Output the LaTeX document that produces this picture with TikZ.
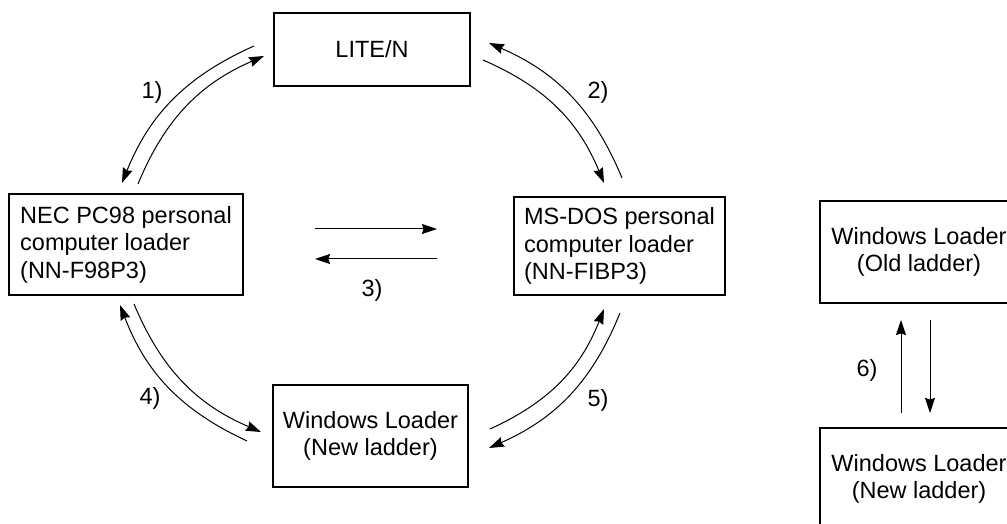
\documentclass[tikz,border=0pt]{standalone}
\usepackage{fontspec}
\setmainfont{Liberation Sans}
\usetikzlibrary{arrows.meta}
\begin{document}
\begin{tikzpicture}[x=1pt,y=1pt,
  box/.style={draw,line width=1.1pt,inner sep=0pt,font=\fontsize{23.5}{27.5}\selectfont},
  lbl/.style={font=\fontsize{23.5}{27.5}\selectfont,inner sep=0pt},
  arr/.style={line width=1pt,-{Stealth[length=15pt,width=10pt,inset=1.5pt]}}]
\useasboundingbox (0,0) rectangle (1007,524);
\clip (0,0) rectangle (1007,524);
% boxes
\node[box,minimum width=196pt,minimum height=73pt] (lite) at (372,474.5) {LITE/N};
\node[box,minimum width=234pt,minimum height=101pt,align=left] (nec) at (126,279.5) {NEC PC98 personal\\computer loader\\(NN-F98P3)};
\node[box,minimum width=211pt,minimum height=98pt,align=left] (msdos) at (619.5,278) {MS-DOS personal\\computer loader\\(NN-FIBP3)};
\node[box,minimum width=195pt,minimum height=102pt,align=center] (winnew) at (370.5,88) {Windows Loader\\(New ladder)};
\node[box,minimum width=198pt,minimum height=102pt,align=center] (wold) at (919,272) {Windows Loader\\(Old ladder)};
\node[box,minimum width=198pt,minimum height=102pt,align=center] (wnew2) at (919,45) {Windows Loader\\(New ladder)};
% arrow end points
\coordinate (a1os) at (254,478); \coordinate (a1ot) at (122,341);
\coordinate (a1is) at (138,340); \coordinate (a1it) at (264,468);
\coordinate (a2os) at (622,346); \coordinate (a2ot) at (489,481);
\coordinate (a2is) at (483,464); \coordinate (a2it) at (604,341);
\coordinate (a3ts) at (315,295); \coordinate (a3tt) at (437,295);
\coordinate (a3bs) at (437,265); \coordinate (a3bt) at (315,265);
\coordinate (a4os) at (247,83);  \coordinate (a4ot) at (120,219);
\coordinate (a4is) at (134,220); \coordinate (a4it) at (261,92);
\coordinate (a5is) at (490,95);  \coordinate (a5it) at (604,215);
\coordinate (a5os) at (620,211); \coordinate (a5ot) at (489,76);
\coordinate (a6us) at (901,111); \coordinate (a6ut) at (901,204);
\coordinate (a6ds) at (930,204); \coordinate (a6dt) at (930,111);
% arrows
\draw[arr] (a1os) to[bend right=22] (a1ot);
\draw[arr] (a1is) to[bend left=22] (a1it);
\draw[arr] (a2os) to[bend right=22] (a2ot);
\draw[arr] (a2is) to[bend left=22] (a2it);
\draw[arr] (a3ts) -- (a3tt);
\draw[arr] (a3bs) -- (a3bt);
\draw[arr] (a4os) to[bend left=22] (a4ot);
\draw[arr] (a4is) to[bend right=22] (a4it);
\draw[arr] (a5is) to[bend right=22] (a5it);
\draw[arr] (a5os) to[bend left=22] (a5ot);
\draw[arr] (a6us) -- (a6ut);
\draw[arr] (a6ds) -- (a6dt);
% labels
\node[lbl] (l1) at (152,432) {1)};
\node[lbl] (l2) at (598,432) {2)};
\node[lbl] (l3) at (372,234) {3)};
\node[lbl] (l4) at (150,126) {4)};
\node[lbl] (l5) at (598,124) {5)};
\node[lbl] (l6) at (867,154) {6)};
\end{tikzpicture}
\end{document}
